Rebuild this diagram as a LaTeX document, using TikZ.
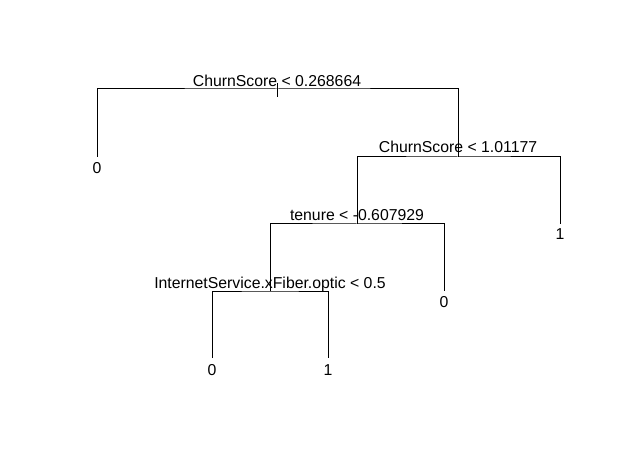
\documentclass[tikz,border=0pt]{standalone}
\usepackage{fontspec}
\setmainfont{Liberation Sans}
\begin{document}
\begin{tikzpicture}[x=1pt,y=-1pt,
  edge/.style={draw=black,line width=1pt},
  splitlabel/.style={anchor=base,inner sep=0pt,font=\fontsize{15.8}{18}\selectfont},
  leaflabel/.style={anchor=base,inner sep=0pt,font=\fontsize{15.8}{18}\selectfont,text=black}]
\useasboundingbox (0,0) rectangle (619,468);
% split points
\coordinate (s1) at (277,89);
\coordinate (s2) at (458,157);
\coordinate (s3) at (357,224);
\coordinate (s4) at (270,291);
% leaf ends
\coordinate (l1) at (97,157);
\coordinate (l2) at (560,224);
\coordinate (l3) at (444,291);
\coordinate (l4) at (212,358);
\coordinate (l5) at (328,358);
% root stub
\coordinate (r1) at (277,83);
\coordinate (r2) at (277,97);
% connectors
\draw[edge] (l1) |- (s1) -| (s2);
\draw[edge] (s3) |- (s2) -| (l2);
\draw[edge] (s4) |- (s3) -| (l3);
\draw[edge] (l4) |- (s4) -| (l5);
\draw[edge] (r1) -- (r2);
% split labels
\node[splitlabel] (t1) at (277,87) {ChurnScore < 0.268664};
\node[splitlabel] (t2) at (458,153) {ChurnScore < 1.01177};
\node[splitlabel] (t3) at (357,221) {tenure < -0.607929};
\node[splitlabel] (t4) at (270,288) {InternetService.xFiber.optic < 0.5};
% leaf labels
\node[leaflabel] (n1) at (97,174) {0};
\node[leaflabel] (n2) at (560,240) {1};
\node[leaflabel] (n3) at (444,307) {0};
\node[leaflabel] (n4) at (212,375) {0};
\node[leaflabel] (n5) at (328,375) {1};
\end{tikzpicture}
\end{document}
